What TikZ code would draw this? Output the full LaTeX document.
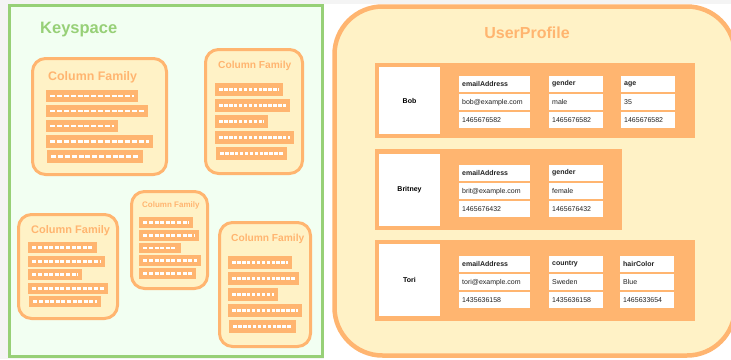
\documentclass[tikz,border=0pt]{standalone}
\usepackage{fontspec}
\setmainfont{Liberation Sans}
\usetikzlibrary{fit}
\definecolor{org}{HTML}{FFB570}
\definecolor{yel}{HTML}{FFF2C6}
\definecolor{grn}{HTML}{97D077}
\definecolor{mint}{HTML}{F2FFF2}
\definecolor{bggray}{HTML}{F4F4F4}
\definecolor{txt}{HTML}{222222}
\newcommand\fs[1]{\fontsize{#1}{#1}\selectfont}
\newcommand\cfbar[6]{% name, x1,y1,x2,y2, dash style
  \node[barbox, fit={(#2,#3)(#4,#5)}] (#1) {};
  \draw[#6] ([xshift=4.5pt]#1.west) -- ([xshift=-4.5pt]#1.east);}
\newcommand\cell[6]{% name, x, y, w, text, font
  \node[cellbox, minimum width=#4pt, minimum height=16pt, anchor=north west] (#1) at (#2,#3) {};
  \node[celltxt, font=#6] (#1t) at ([xshift=3pt]#1.west) {#5};}
\begin{document}
\begin{tikzpicture}[x=1pt,y=-1pt,
  panelbox/.style={draw=grn, line width=3pt, fill=mint},
  upbox/.style={draw=org, line width=4.5pt, fill=yel, rounded corners=48pt},
  cfbox/.style={draw=org, line width=3pt, fill=yel, rounded corners=13pt, inner sep=0pt},
  barbox/.style={fill=org, inner sep=0pt},
  dA/.style={draw=white, line width=2.4pt, dash pattern=on 5pt off 1.8pt},
  dB/.style={draw=white, line width=2.8pt, dash pattern=on 3.4pt off 1.5pt},
  dC/.style={draw=white, line width=2.2pt, dash pattern=on 4pt off 1.6pt},
  cftitle/.style={text=org, font=\bfseries, anchor=west, inner sep=0pt},
  rowbox/.style={fill=org, inner sep=0pt},
  keybox/.style={fill=white, inner sep=0pt},
  keytxt/.style={font=\bfseries\fs{7}, text=black, inner sep=0pt},
  cellbox/.style={fill=white, inner sep=0pt},
  celltxt/.style={anchor=west, inner sep=0pt, text=txt},
]
\useasboundingbox (0,0) rectangle (731,359);
\fill[bggray] (0,0) rectangle (731,359);
\fill[white] (324,4) rectangle (731,359);

% ---------- Keyspace ----------
\node[panelbox, fit={(9,5.5)(322,356.5)}, inner sep=0pt] (keyspace) {};
\node[anchor=west, inner sep=0pt, text=grn, font=\bfseries\fs{16.5}] (kstitle) at (40,30) {Keyspace};

% CF1
\node[cfbox, fit={(32.5,58.5)(166.5,174.5)}] (cf1) {};
\node[cftitle, font=\bfseries\fs{12.4}] (cf1t) at (48,77) {Column Family};
\cfbar{cf1a}{46}{90}{138}{102}{dA}
\cfbar{cf1b}{46}{105}{148}{117}{dA}
\cfbar{cf1c}{46}{120}{118}{132}{dA}
\cfbar{cf1d}{46}{135}{153}{148}{dA}
\cfbar{cf1e}{47}{150}{143}{163}{dA}

% CF2
\node[cfbox, fit={(205.5,49.5)(302.5,173.5)}] (cf2) {};
\node[cftitle, font=\bfseries\fs{10.2}] (cf2t) at (218,66) {Column Family};
\cfbar{cf2a}{215}{83}{283}{96}{dB}
\cfbar{cf2b}{215}{99}{290}{112}{dB}
\cfbar{cf2c}{215}{115}{268}{128}{dB}
\cfbar{cf2d}{215}{131}{294}{144}{dB}
\cfbar{cf2e}{216}{147}{287}{160}{dB}

% CF3
\node[cfbox, fit={(18.5,214.5)(117.5,318.5)}] (cf3) {};
\node[cftitle, font=\bfseries\fs{11}] (cf3t) at (31,231) {Column Family};
\cfbar{cf3a}{28}{242}{97}{253}{dC}
\cfbar{cf3b}{28}{256}{105}{267}{dC}
\cfbar{cf3c}{28}{269}{82}{280}{dC}
\cfbar{cf3d}{28}{283}{108}{294}{dC}
\cfbar{cf3e}{29}{296}{101}{307}{dC}

% CF4
\node[cfbox, fit={(131.5,191.5)(207.5,288.5)}] (cf4) {};
\node[cftitle, font=\bfseries\fs{8}] (cf4t) at (142,205) {Column Family};
\cfbar{cf4a}{139}{217}{193}{228}{dC}
\cfbar{cf4b}{139}{230}{199}{241}{dC}
\cfbar{cf4c}{139}{243}{181}{253}{dC}
\cfbar{cf4d}{139}{255}{201}{266}{dC}
\cfbar{cf4e}{139}{268}{196}{279}{dC}

% CF5
\node[cfbox, fit={(219.5,222.5)(310.5,346.5)}] (cf5) {};
\node[cftitle, font=\bfseries\fs{10.2}] (cf5t) at (231,239) {Column Family};
\cfbar{cf5a}{228}{256}{292}{269}{dB}
\cfbar{cf5b}{228}{272}{299}{285}{dB}
\cfbar{cf5c}{228}{288}{278}{301}{dB}
\cfbar{cf5d}{228}{304}{302}{317}{dB}
\cfbar{cf5e}{229}{320}{296}{333}{dB}

% ---------- UserProfile ----------
\begin{scope}
\clip (0,0) rectangle (731,359);
\node[upbox, fit={(334.5,6.5)(735,355.5)}, inner sep=0pt] (up) {};
\end{scope}
\node[inner sep=0pt, text=org, font=\bfseries\fs{16}] (uptitle) at (527,33) {UserProfile};

% Bob
\node[rowbox, fit={(375,63)(695,138)}] (bobrow) {};
\node[keybox, fit={(379,67)(440,134)}] (bobkey) {};
\node[keytxt] (bobname) at (bobkey.center) {Bob};
\cell{b11}{459}{76}{71}{emailAddress}{\bfseries\fs{7}}
\cell{b12}{459}{94}{71}{bob@example.com}{\fs{7}}
\cell{b13}{459}{112}{71}{1465676582}{\fs{7}}
\cell{b21}{549}{76}{54}{gender}{\bfseries\fs{7}}
\cell{b22}{549}{94}{54}{male}{\fs{7}}
\cell{b23}{549}{112}{54}{1465676582}{\fs{7}}
\cell{b31}{621}{76}{54}{age}{\bfseries\fs{7}}
\cell{b32}{621}{94}{54}{35}{\fs{7}}
\cell{b33}{621}{112}{54}{1465676582}{\fs{7}}

% Britney
\node[rowbox, fit={(375,149)(622,230)}] (britrow) {};
\node[keybox, fit={(379,154)(440,226)}] (britkey) {};
\node[keytxt] (britname) at (britkey.center) {Britney};
\cell{r11}{459}{165}{71}{emailAddress}{\bfseries\fs{7}}
\cell{r12}{459}{183}{71}{brit@example.com}{\fs{7}}
\cell{r13}{459}{201}{71}{1465676432}{\fs{7}}
\cell{r21}{549}{165}{54}{gender}{\bfseries\fs{7}}
\cell{r22}{549}{183}{54}{female}{\fs{7}}
\cell{r23}{549}{201}{54}{1465676432}{\fs{7}}

% Tori
\node[rowbox, fit={(375,240)(695,321)}] (torirow) {};
\node[keybox, fit={(379,244)(440,316)}] (torikey) {};
\node[keytxt] (toriname) at (torikey.center) {Tori};
\cell{t11}{459}{256}{71}{emailAddress}{\bfseries\fs{7}}
\cell{t12}{459}{274}{71}{tori@example.com}{\fs{7}}
\cell{t13}{459}{292}{71}{1435636158}{\fs{7}}
\cell{t21}{549}{256}{54}{country}{\bfseries\fs{7}}
\cell{t22}{549}{274}{54}{Sweden}{\fs{7}}
\cell{t23}{549}{292}{54}{1435636158}{\fs{7}}
\cell{t31}{620}{256}{54}{hairColor}{\bfseries\fs{7}}
\cell{t32}{620}{274}{54}{Blue}{\fs{7}}
\cell{t33}{620}{292}{54}{1465633654}{\fs{7}}
\end{tikzpicture}
\end{document}
